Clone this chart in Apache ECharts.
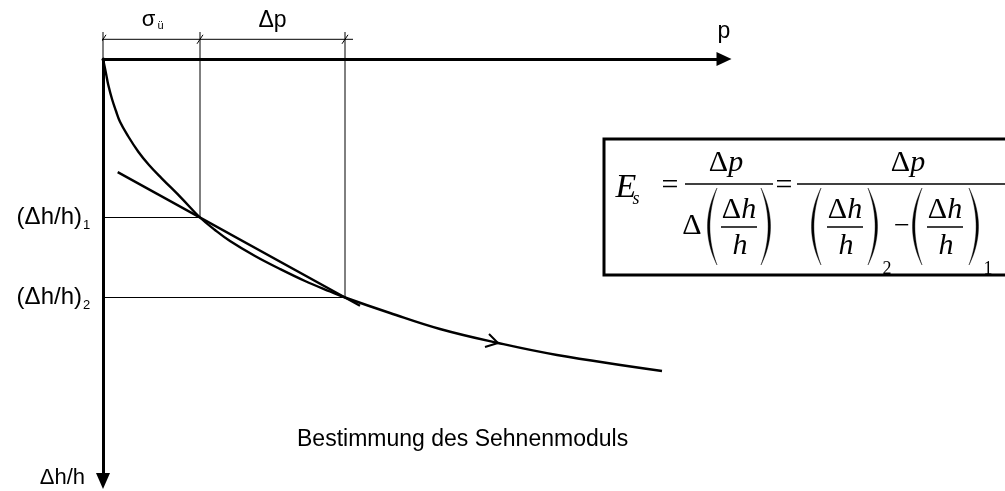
<!DOCTYPE html>
<html>
<head>
<meta charset="utf-8">
<script src="https://cdn.jsdelivr.net/npm/echarts@6/dist/echarts.min.js"></script>
<style>
  html, body { margin: 0; padding: 0; background: #fff; }
  #chart { width: 1005px; height: 491px; }
</style>
</head>
<body>
<div id="chart"></div>
<script>
// Oedometer curve: load p (right) against relative settlement Δh/h (down), schematic units
const curveLoad   = [0, 0.015, 0.033, 0.053, 0.09, 0.13, 0.17, 0.25, 0.353, 0.46, 0.587, 0.787, 0.97, 1.12, 1.27, 1.52, 1.77, 2.02, 2.27, 2.42, 2.87, 3.37, 3.95, 4.54, 5.59];
const curveStrain = [0, 0.07, 0.16, 0.26, 0.40, 0.52, 0.627, 0.77, 0.927, 1.06, 1.193, 1.393, 1.585, 1.71, 1.82, 1.97, 2.10, 2.22, 2.325, 2.385, 2.54, 2.70, 2.84, 2.96, 3.12];

// the two reading points: load σü and σü + Δp, with their strains
const readLoad   = [0.97, 2.42];
const readStrain = [1.585, 2.385];
const readNames  = ['1', '2'];

// load range over which the secant is drawn
const chordLoad = [0.147, 2.57];

// where the direction arrow sits on the curve (index into curve arrays)
const arrowIndex = 22;

// dimension line above the load axis
const dimStrain = -0.197;
const dimLoad = [-0.07, 2.5];
const extStrainTop = -0.27;
const leaderLoadStart = -0.08;

const axisMax = { load: 6.21, strain: 4.22 };

const SANS = '"Liberation Sans", Arial, sans-serif';
const SERIF = '"Liberation Serif", "Times New Roman", serif';

const chord = chordLoad.map(function (p) {
  const k = (readStrain[1] - readStrain[0]) / (readLoad[1] - readLoad[0]);
  return [p, readStrain[0] + k * (p - readLoad[0])];
});

const thin = { color: '#000', width: 1 };
const thick = { color: '#000', width: 2.4 };

function lineSeries(data, style, z) {
  return {
    type: 'line', data: data, showSymbol: false, symbol: 'none', clip: false,
    lineStyle: style, silent: true, animation: false, z: z || 2
  };
}

const series = [];
series.push(Object.assign(lineSeries(curveLoad.map(function (p, i) { return [p, curveStrain[i]]; }), thick, 4), { smooth: 0.4 }));
series.push(lineSeries(chord, thick, 4));
// vertical extension lines (incl. the one at the origin) and horizontal leaders
series.push(lineSeries([[0, extStrainTop], [0, 0]], thin));
readLoad.forEach(function (p, i) {
  series.push(lineSeries([[p, extStrainTop], [p, readStrain[i]]], thin));
  series.push(lineSeries([[leaderLoadStart, readStrain[i]], [p, readStrain[i]]], thin));
});
// dimension line with slash ticks
series.push(lineSeries([[dimLoad[0], dimStrain], [dimLoad[1], dimStrain]], thin));
[0].concat(readLoad).forEach(function (p) {
  series.push(lineSeries([[p - 0.03, dimStrain + 0.045], [p + 0.03, dimStrain - 0.045]], thin));
});

const chart = echarts.init(document.getElementById('chart'), null, { renderer: 'canvas' });

chart.setOption({
  animation: false,
  backgroundColor: '#fff',
  title: {
    text: 'Bestimmung des Sehnenmoduls',
    left: 292, top: 423,
    textStyle: { fontFamily: SANS, fontSize: 23, fontWeight: 'normal', color: '#000' }
  },
  grid: { left: 103, top: 59, width: 621, height: 422 },
  xAxis: {
    type: 'value', position: 'top', min: 0, max: axisMax.load,
    axisLine: { show: true, onZero: false, lineStyle: { color: '#000', width: 3 },
                symbol: ['none', 'triangle'], symbolSize: [14, 15] },
    axisTick: { show: false }, axisLabel: { show: false }, splitLine: { show: false }
  },
  yAxis: {
    type: 'value', inverse: true, min: 0, max: axisMax.strain,
    axisLine: { show: true, onZero: false, lineStyle: { color: '#000', width: 3 },
                symbol: ['triangle', 'none'], symbolSize: [14, 16] },
    axisTick: { show: false }, axisLabel: { show: false }, splitLine: { show: false }
  },
  series: series
});

// ---- annotations positioned from data ----
function px(p, s) { return chart.convertToPixel({ gridIndex: 0 }, [p, s]); }

function text(x, y, str, font, align, extra) {
  return {
    type: 'text', silent: true, z: 10,
    style: Object.assign({ x: x, y: y, text: str, font: font, fill: '#000',
                           textAlign: align || 'center', textVerticalAlign: 'middle' }, extra || {})
  };
}

const g = [];
const dimY = px(0, dimStrain)[1];
const midA = (px(0, 0)[0] + px(readLoad[0], 0)[0]) / 2;
const midB = (px(readLoad[0], 0)[0] + px(readLoad[1], 0)[0]) / 2;
g.push(text(midA - 3, dimY - 19, 'σ', '22px ' + SANS));
g.push(text(midA + 9, dimY - 13, 'ü', '11px ' + SANS));
g.push(text(midB, dimY - 19, 'Δp', '23px ' + SANS));

const axisEnd = px(axisMax.load, 0);
g.push(text(axisEnd[0], axisEnd[1] - 27, 'p', '23px ' + SANS));
const yEnd = px(0, axisMax.strain);
g.push(text(yEnd[0] - 18, yEnd[1] - 3, 'Δh/h', '22px ' + SANS, 'right'));

readStrain.forEach(function (s, i) {
  const y = px(0, s)[1];
  g.push(text(82, y, '(Δh/h)', '24px ' + SANS, 'right'));
  g.push(text(83, y + 8, readNames[i], '13px ' + SANS, 'left'));
});

// direction arrow on the curve
const tip = px(curveLoad[arrowIndex], curveStrain[arrowIndex]);
g.push({
  type: 'polyline', silent: true, z: 10,
  shape: { points: [[tip[0] - 9, tip[1] - 9], tip, [tip[0] - 13, tip[1] + 4]] },
  style: { stroke: '#000', lineWidth: 2, fill: null }
});

// ---- secant modulus formula ----
function quad(a, c, b, t) {
  const u = 1 - t;
  return [u * u * a[0] + 2 * u * t * c[0] + t * t * b[0], u * u * a[1] + 2 * u * t * c[1] + t * t * b[1]];
}
function paren(x, top, bottom, left) {
  // crescent-shaped bracket; x is the outer extreme of the bow
  const w = 10, t = 2.4, mid = (top + bottom) / 2, n = 24;
  const s = left ? 1 : -1;
  const ends = [x + s * w, top], ende = [x + s * w, bottom];
  const cOut = [x - s * (w - 1), mid], cIn = [x - s * (w - 1 - 2 * t), mid];
  const pts = [];
  for (let i = 0; i <= n; i++) pts.push(quad(ends, cOut, ende, i / n));
  for (let i = n; i >= 0; i--) pts.push(quad(ends, cIn, ende, i / n));
  return { type: 'polygon', silent: true, z: 10, shape: { points: pts }, style: { fill: '#000', stroke: '#000', lineWidth: 0.4 } };
}
function bar(x1, x2, y, w) {
  return { type: 'line', silent: true, z: 10, shape: { x1: x1, y1: y, x2: x2, y2: y }, style: { stroke: '#000', lineWidth: w || 1.4 } };
}
function mathText(x, y, parts, size, align) {
  // parts: [[string, italic]]
  const rich = {
    u: { fontFamily: SERIF, fontSize: size, fontStyle: 'normal', fill: '#000' },
    i: { fontFamily: SERIF, fontSize: size, fontStyle: 'italic', fill: '#000' }
  };
  const str = parts.map(function (p) { return '{' + (p[1] ? 'i' : 'u') + '|' + p[0] + '}'; }).join('');
  return text(x, y, str, size + 'px ' + SERIF, align, { rich: rich });
}
function dhOverH(cx, barY) {
  return [
    mathText(cx, barY - 17, [['Δ', false], ['h', true]], 30),
    bar(cx - 18, cx + 18, barY, 1.3),
    mathText(cx + 1, barY + 19, [['h', true]], 30)
  ];
}

const F = [];
F.push({ type: 'rect', silent: true, z: 9, shape: { x: 604, y: 139, width: 420, height: 136 },
         style: { fill: '#fff', stroke: '#000', lineWidth: 3 } });
F.push(mathText(626, 188, [['E', true]], 34));
F.push(mathText(636, 199, [['s', true]], 18));
F.push(mathText(670, 186, [['=', false]], 30));
F.push(bar(685, 773, 184));
F.push(mathText(726, 163, [['Δ', false], ['p', true]], 30));
F.push(mathText(692, 226, [['Δ', false]], 30));
F.push(paren(707, 188, 265, true));
F.push.apply(F, dhOverH(739, 227));
F.push(paren(771, 188, 265, false));
F.push(mathText(784, 186, [['=', false]], 30));
F.push(bar(797, 1010, 184));
F.push(mathText(908, 163, [['Δ', false], ['p', true]], 30));
F.push(paren(811, 188, 265, true));
F.push.apply(F, dhOverH(845, 227));
F.push(paren(878, 188, 265, false));
F.push(mathText(887, 269, [['2', false]], 18));
F.push(mathText(902, 227, [['−', false]], 28));
F.push(paren(912, 188, 265, true));
F.push.apply(F, dhOverH(945, 227));
F.push(paren(979, 188, 265, false));
F.push(mathText(988, 269, [['1', false]], 18));

chart.setOption({ graphic: g.concat(F) });
</script>
</body>
</html>
